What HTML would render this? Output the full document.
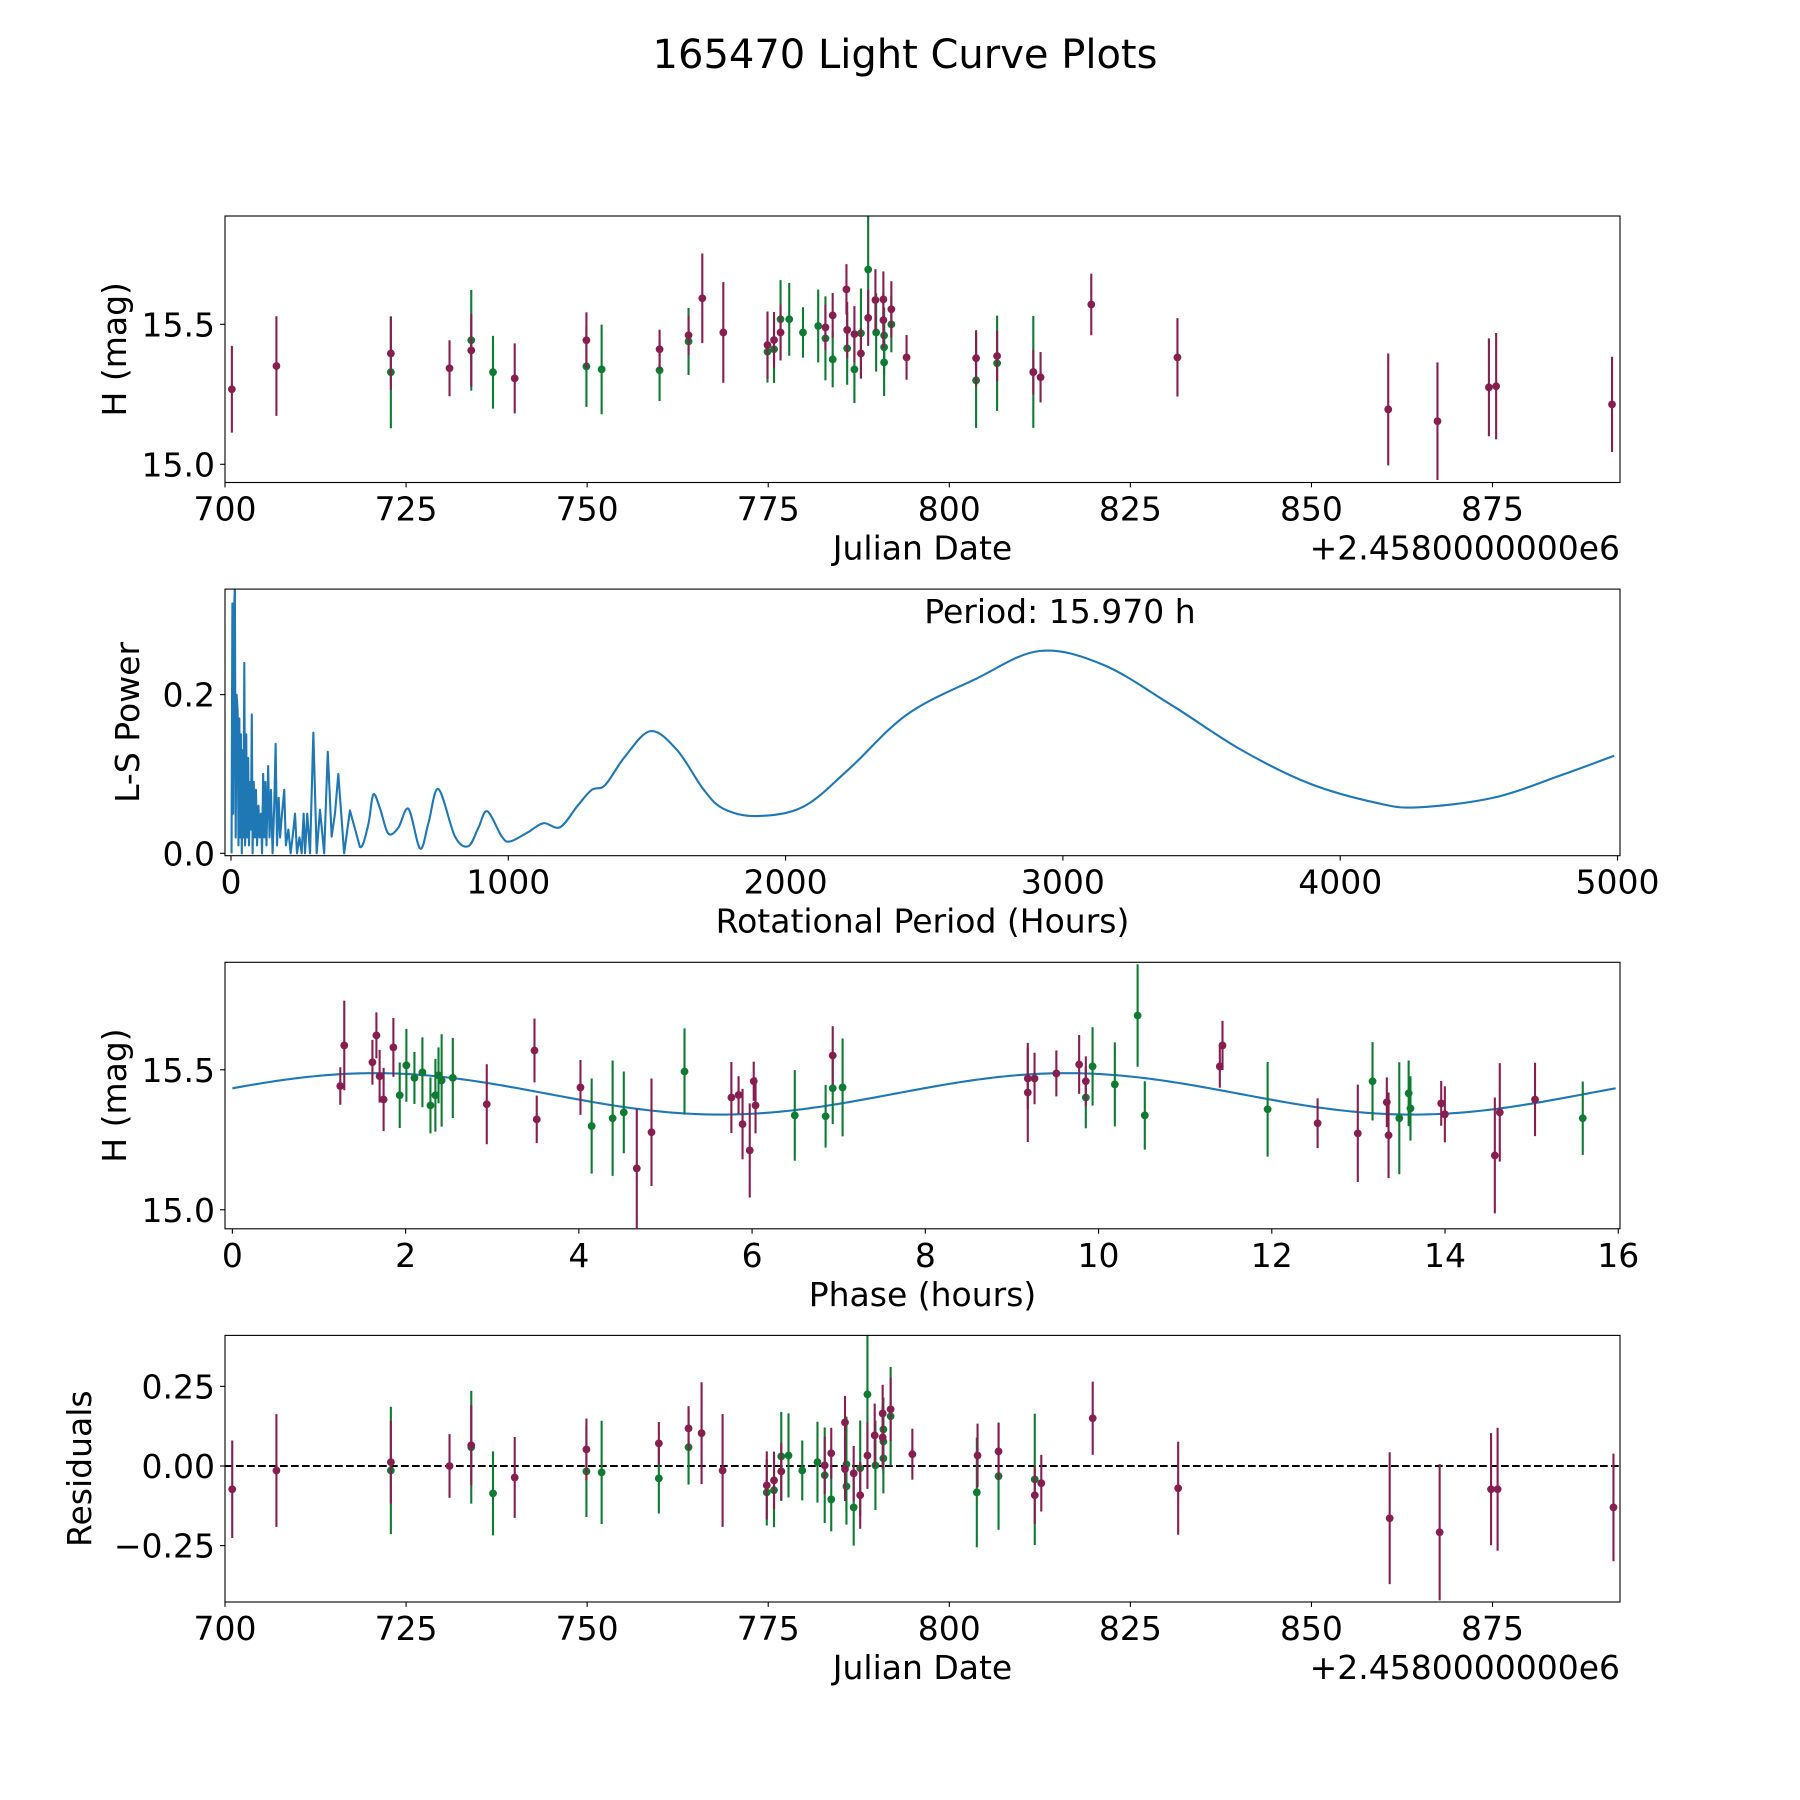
<!DOCTYPE html>
<html><head><meta charset="utf-8"><title>165470 Light Curve Plots</title>
<style>
html,body{margin:0;padding:0;background:#fff;}
svg{display:block;font-family:"DejaVu Sans","Liberation Sans",sans-serif;}
</style></head>
<body>
<svg id="fig" xmlns="http://www.w3.org/2000/svg" width="1800" height="1800" viewBox="0 0 1800 1800">
<rect x="0" y="0" width="1800" height="1800" fill="#fff"/>
<text x="905" y="68" font-size="40" text-anchor="middle">165470 Light Curve Plots</text>
</svg>
<script>
// ---- Panel 1: H magnitude vs Julian date ----
const lcDates = [700.95,707.1,722.9,722.9,731.0,734.0,734.0,737.0,740.0,749.9,749.9,752.0,760.0,760.0,764.0,764.0,765.9,768.8,774.9,774.9,775.8,775.8,776.7,776.7,777.9,779.8,781.9,782.9,782.9,783.9,783.9,785.8,785.9,785.9,786.9,786.9,787.8,787.8,788.8,788.8,789.8,789.9,790.9,790.9,791.0,791.0,791.0,792.0,792.0,794.1,803.7,803.7,806.6,806.6,811.6,811.6,812.6,819.6,831.5,860.6,867.4,874.5,875.5,891.5];
const lcMags = [15.268,15.351,15.396,15.329,15.343,15.407,15.443,15.329,15.307,15.443,15.35,15.339,15.411,15.336,15.461,15.439,15.593,15.471,15.426,15.402,15.444,15.411,15.471,15.518,15.518,15.471,15.494,15.489,15.45,15.532,15.375,15.625,15.48,15.414,15.465,15.339,15.396,15.468,15.696,15.523,15.587,15.471,15.589,15.515,15.46,15.418,15.364,15.554,15.50,15.382,15.379,15.30,15.387,15.361,15.329,15.33,15.311,15.571,15.382,15.196,15.154,15.275,15.279,15.214];
const lcErrs = [.155,.178,.13,.2,.10,.13,.18,.13,.125,.1,.145,.16,.07,.11,.07,.12,.16,.18,.12,.11,.1,.12,.1,.14,.13,.09,.13,.08,.15,.08,.1,.09,.1,.13,.1,.12,.09,.16,.19,.1,.11,.14,.1,.1,.1,.1,.12,.1,.1,.08,.1,.17,.09,.17,.08,.2,.09,.11,.14,.2,.21,.175,.19,.17];
const lcFilters = "mmmgmmggmmggmgmgmmmgmgmggggmgmgmmgmgmggmmgmmgggmgmmgmgmgmmmmmmmm";

// ---- Panel 2: Lomb-Scargle periodogram ----
const lsPeriods = [2,5,8,11,14,17,20,24,27,30,33,36,39,42,45,48,51,55,58,62,65,69,72,75,78,82,86,90,94,99,103,108,112,116,120,124,128,134,139,144,150,156,161,166,172,177,184,192,198,207,215,222,231,238,247,255,262,267,275,285,297,309,321,336,349,363,375,387,408,429,465,495,513,537,567,603,640,682,712,748,808,856,892,924,977,1007,1073,1127,1187,1250,1301,1349,1421,1513,1609,1705,1777,1899,2065,2231,2438,2687,2915,3143,3391,3640,3889,4138,4283,4552,4801,4988];
const lsPowers = [0.0,0.315,0.05,0.3,0.34,0.02,0.2,0.18,0.01,0.17,0.02,0.15,0.0,0.13,0.02,0.24,0.01,0.15,0.02,0.12,0.01,0.09,0.03,0.175,0.0,0.09,0.02,0.08,0.01,0.06,0.02,0.05,0.0,0.1,0.02,0.09,0.01,0.11,0.02,0.08,0.0,0.06,0.138,0.01,0.07,0.02,0.05,0.08,0.01,0.03,0.0,0.02,0.05,0.0,0.02,0.0,0.05,0.0,0.05,0.0,0.152,0.0,0.055,0.0,0.128,0.021,0.05,0.1,0.0,0.054,0.008,0.036,0.074,0.057,0.025,0.032,0.056,0.006,0.038,0.081,0.021,0.009,0.032,0.053,0.021,0.015,0.027,0.038,0.033,0.06,0.08,0.086,0.122,0.154,0.13,0.08,0.056,0.047,0.059,0.107,0.175,0.22,0.255,0.238,0.187,0.131,0.088,0.063,0.058,0.07,0.099,0.123];
const bestPeriodLabel = "Period: 15.970 h";

// ---- Panel 3: phased light curve ----
const phHours = [1.246,1.292,1.617,1.663,1.70,1.746,1.859,1.932,2.009,2.102,2.194,2.287,2.344,2.38,2.416,2.545,2.937,3.488,3.514,4.019,4.148,4.39,4.519,4.669,4.839,5.22,5.761,5.844,5.89,5.973,6.019,6.04,6.493,6.849,6.931,6.931,7.045,9.183,9.183,9.261,9.513,9.776,9.853,9.853,9.931,10.188,10.451,10.534,11.40,11.431,11.952,12.529,12.993,13.163,13.328,13.348,13.472,13.58,13.601,13.956,13.998,14.575,14.632,15.039,15.59];
const phMags = [15.442,15.587,15.527,15.623,15.477,15.394,15.58,15.409,15.516,15.471,15.491,15.373,15.409,15.48,15.462,15.471,15.377,15.569,15.323,15.437,15.299,15.327,15.348,15.148,15.277,15.494,15.401,15.41,15.306,15.212,15.459,15.373,15.337,15.334,15.551,15.434,15.437,15.469,15.419,15.469,15.487,15.519,15.459,15.401,15.512,15.448,15.694,15.337,15.512,15.587,15.359,15.309,15.273,15.459,15.384,15.266,15.327,15.416,15.362,15.38,15.341,15.194,15.348,15.394,15.327];
const phErrs = [.067,.16,.08,.082,.094,.113,.105,.117,.13,.093,.125,.10,.13,.10,.165,.143,.143,.114,.085,.098,.17,.206,.146,.213,.192,.154,.127,.067,.126,.168,.07,.10,.162,.112,.105,.128,.175,.109,.177,.092,.082,.105,.089,.11,.14,.15,.183,.122,.076,.088,.169,.089,.174,.14,.089,.153,.2,.117,.115,.08,.1,.207,.176,.131,.131];
const phFilters = "mmmmmmmgggggggggmmmmgggmmgmmmmmmggmggmmmmmmgggggmmgmmgmmgggmmmmmg";
const modelParams = [15.414, 0.074, 15.970, 0.347]; // mean, amplitude, period (h), phase shift

// ---- Panel 4: residuals ----
const resDates = [701.0,707.1,722.9,722.9,731.0,734.0,734.0,737.0,740.0,749.9,749.9,752.0,759.9,759.9,764.0,764.0,765.8,768.7,774.8,774.8,775.8,775.8,776.8,776.8,777.8,779.7,781.8,782.8,782.8,783.7,783.7,785.6,785.6,785.8,785.8,786.8,786.8,787.7,787.7,788.7,788.7,789.7,789.8,790.8,790.8,790.9,790.9,790.9,791.9,791.9,794.9,803.9,803.8,806.8,806.8,811.8,811.8,812.7,819.8,831.6,860.8,867.7,874.8,875.7,891.7];
const resValues = [-0.073,-0.014,0.012,-0.014,0.0,0.065,0.059,-0.086,-0.036,0.052,-0.017,-0.02,0.071,-0.039,0.118,0.059,0.103,-0.014,-0.061,-0.083,-0.045,-0.076,-0.017,0.03,0.033,-0.014,0.012,0.002,-0.029,0.04,-0.105,0.137,-0.01,0.005,-0.064,-0.023,-0.13,-0.092,-0.007,0.225,0.033,0.096,0.002,0.165,0.09,0.115,0.077,0.024,0.178,0.156,0.037,0.033,-0.083,0.046,-0.032,-0.042,-0.092,-0.054,0.15,-0.07,-0.164,-0.208,-0.073,-0.073,-0.13];
const resErrs = [.153,.177,.13,.2,.1,.126,.177,.132,.127,.097,.143,.162,.067,.11,.07,.117,.16,.177,.107,.104,.09,.116,.09,.14,.132,.094,.127,.09,.15,.08,.1,.083,.1,.15,.12,.086,.12,.105,.15,.19,.105,.1,.14,.09,.1,.1,.1,.11,.1,.155,.08,.1,.172,.09,.168,.206,.09,.089,.115,.146,.207,.214,.176,.193,.169];
const resFilters = "mmmgmmggmmggmgmgmmmgmgmggggmgmgmmggmgmggmmgmmgggmgmmgmggmmmmmmmmm";

// tick label arrays
const dateTicks = [700,725,750,775,800,825,850,875];
const magTicks = [15.0,15.5];
const magTickLabels = ["15.0","15.5"];
const periodTicks = [0,1000,2000,3000,4000,5000];
const powerTicks = [0.0,0.2];
const powerTickLabels = ["0.0","0.2"];
const phaseTicks = [0,2,4,6,8,10,12,14,16];
const resTicks = [-0.25,0.0,0.25];
const resTickLabels = ["\u22120.25","0.00","0.25"];

const NS = "http://www.w3.org/2000/svg";
const svg = document.getElementById('fig');
const MAG = "#871e50", GRN = "#0e7a32", BLUE = "#1f77b4";
const FS = 33;
const L = 225, R = 1620;
const panels = [
  {top:216, bot:482.5, x0:700, x1:892.6, y0:14.935, y1:15.887},
  {top:589.1, bot:855.7, x0:-21.6, x1:5009, y0:-0.003, y1:0.333},
  {top:962.3, bot:1228.8, x0:-0.085, x1:16.02, y0:14.932, y1:15.884},
  {top:1335.4, bot:1602, x0:700, x1:892.6, y0:-0.427, y1:0.41}
];
function sx(p, v){ return L + (v - p.x0) / (p.x1 - p.x0) * (R - L); }
function sy(p, v){ return p.bot - (v - p.y0) / (p.y1 - p.y0) * (p.bot - p.top); }
function mk(tag, attrs, parent){
  const e = document.createElementNS(NS, tag);
  for (const k in attrs) e.setAttribute(k, attrs[k]);
  (parent || svg).appendChild(e);
  return e;
}
const defs = mk('defs', {});
panels.forEach((p, i) => {
  const cp = mk('clipPath', {id:'clip'+i}, defs);
  mk('rect', {x:L, y:p.top, width:R-L, height:p.bot-p.top}, cp);
});

function axes(i, name, xt, xtl, yt, ytl, xlabel, ylabel, ylabX, offsetText){
  const p = panels[i];
  const g = mk('g', {});
  
  
  xt.forEach((v, k) => {
    const x = sx(p, v);
    const t = mk('line', {x1:x, x2:x, y1:p.bot, y2:p.bot+4.9, stroke:'#000', 'stroke-width':1.1}, g);
    
    
    const tl = mk('text', {x:x, y:p.bot+38, 'font-size':FS, 'text-anchor':'middle'}, g);
    tl.textContent = xtl[k];
    
    
  });
  yt.forEach((v, k) => {
    const y = sy(p, v);
    const t = mk('line', {x1:L-4.9, x2:L, y1:y, y2:y, stroke:'#000', 'stroke-width':1.1}, g);
    
    
    const tl = mk('text', {x:L-10, y:y+12, 'font-size':FS, 'text-anchor':'end'}, g);
    tl.textContent = ytl[k];
    
    
  });
  const xl = mk('text', {x:(L+R)/2, y:p.bot+77, 'font-size':FS, 'text-anchor':'middle'}, g);
  xl.textContent = xlabel;
  
  
  const cy = (p.top+p.bot)/2;
  const yl = mk('text', {x:ylabX, y:cy, 'font-size':FS, 'text-anchor':'middle', transform:'rotate(-90 '+ylabX+' '+cy+')'}, g);
  yl.textContent = ylabel;
  
  
  if (offsetText){
    const ot = mk('text', {x:R, y:p.bot+77, 'font-size':FS, 'text-anchor':'end'}, g);
    ot.textContent = offsetText;
    
    
  }
}
function frame(i){
  const p = panels[i];
  const f = mk('rect', {x:L, y:p.top, width:R-L, height:p.bot-p.top, fill:'none', stroke:'#000', 'stroke-width':1.1});
  
  
}
function errorbars(i, xs, ys, es, fs, name){
  const p = panels[i];
  const g = mk('g', {'clip-path':'url(#clip'+i+')'});
  
  
  ['g','m'].forEach(f => {
    for (let k = 0; k < xs.length; k++){
      if (fs[k] !== f) continue;
      const col = f === 'm' ? MAG : GRN;
      const x = sx(p, xs[k]);
      const b = mk('line', {x1:x, x2:x, y1:sy(p, ys[k]-es[k]), y2:sy(p, ys[k]+es[k]), stroke:col, 'stroke-width':2.1}, g);
      
      
      const c = mk('circle', {cx:x, cy:sy(p, ys[k]), r:3.9, fill:col}, g);
      
      
    }
  });
}

// Panel 1
axes(0, 'lightcurve-axes', dateTicks, dateTicks.map(String), magTicks, magTickLabels, 'Julian Date', 'H (mag)', 126, '+2.4580000000e6');
errorbars(0, lcDates, lcMags, lcErrs, lcFilters, 'lightcurve-points');
frame(0);

// Panel 2
axes(1, 'periodogram-axes', periodTicks, periodTicks.map(String), powerTicks, powerTickLabels, 'Rotational Period (Hours)', 'L-S Power', 139, null);
(function(){
  const p = panels[1];
  const pts = lsPeriods.map((v, k) => [sx(p, v), sy(p, lsPowers[k])]);
  let d = 'M' + pts[0][0].toFixed(2) + ' ' + pts[0][1].toFixed(2);
  for (let k = 1; k < pts.length; k++){
    if (lsPeriods[k] <= 465){
      d += ' L' + pts[k][0].toFixed(2) + ' ' + pts[k][1].toFixed(2);
    } else {
      const p0 = pts[k-2] || pts[k-1], p1 = pts[k-1], p2 = pts[k], p3 = pts[k+1] || pts[k];
      const c1x = p1[0] + (p2[0]-p0[0])/6, c1y = p1[1] + (p2[1]-p0[1])/6;
      const c2x = p2[0] - (p3[0]-p1[0])/6, c2y = p2[1] - (p3[1]-p1[1])/6;
      d += ' C' + c1x.toFixed(2)+' '+c1y.toFixed(2)+' '+c2x.toFixed(2)+' '+c2y.toFixed(2)+' '+p2[0].toFixed(2)+' '+p2[1].toFixed(2);
    }
  }
  const path = mk('path', {d:d, fill:'none', stroke:BLUE, 'stroke-width':2.1, 'stroke-linejoin':'round', 'clip-path':'url(#clip1)'});
  
  
  const t = mk('text', {x:sx(p, 2500), y:p.top+34, 'font-size':FS});
  t.textContent = bestPeriodLabel;
  
  
})();
frame(1);

// Panel 3
axes(2, 'phase-axes', phaseTicks, phaseTicks.map(String), magTicks, magTickLabels, 'Phase (hours)', 'H (mag)', 126, null);
(function(){
  const p = panels[2];
  const [mean, amp, per, shift] = modelParams;
  let d = '';
  for (let k = 0; k <= 400; k++){
    const ph = per * k / 400;
    const v = mean + amp * Math.sin(4 * Math.PI * (ph + shift) / per);
    d += (k ? ' L' : 'M') + sx(p, ph).toFixed(2) + ' ' + sy(p, v).toFixed(2);
  }
  const path = mk('path', {d:d, fill:'none', stroke:BLUE, 'stroke-width':2.1});
  
  
})();
errorbars(2, phHours, phMags, phErrs, phFilters, 'phased-points');
frame(2);

// Panel 4
axes(3, 'residuals-axes', dateTicks, dateTicks.map(String), resTicks, resTickLabels, 'Julian Date', 'Residuals', 91, '+2.4580000000e6');
(function(){
  const p = panels[3];
  const y = sy(p, 0);
  const z = mk('line', {x1:L, x2:R, y1:y, y2:y, stroke:'#000', 'stroke-width':2.1, 'stroke-dasharray':'7.7 3.3'});
  
  
})();
errorbars(3, resDates, resValues, resErrs, resFilters, 'residual-points');
frame(3);
</script>
</body></html>
